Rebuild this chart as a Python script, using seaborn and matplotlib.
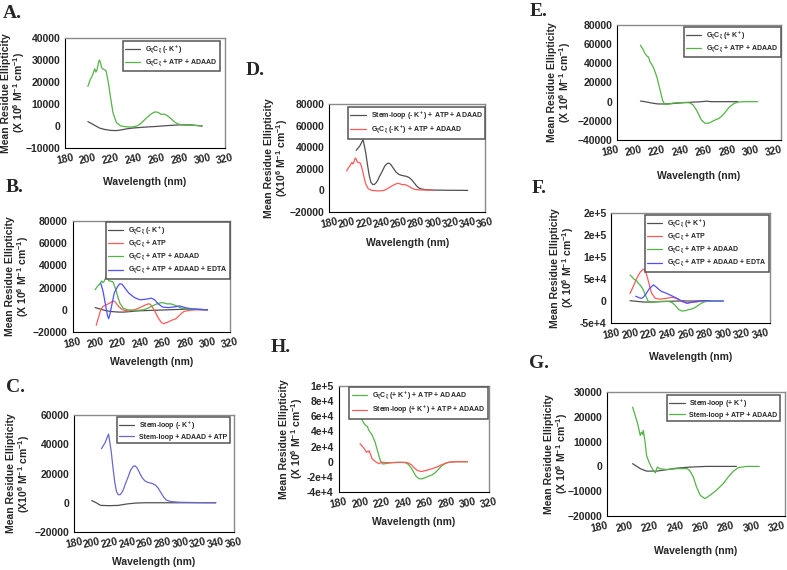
import matplotlib
matplotlib.use('Agg')
import matplotlib.pyplot as plt
import matplotlib.transforms as mtransforms
import seaborn as sns

# ---- data ----
# G C (- K+)
gc_k0_wl = [200, 205, 210, 215, 220, 225, 230, 235, 240, 250, 260, 270, 280, 290, 300]
gc_k0 = [2000, 600, -900, -1600, -2000, -2100, -1700, -1200, -900, -500, -200, 200, 500, 500, 0]

# G C (- K+) + ATP + ADAAD
gc_k0_aa_wl = [200, 202, 204, 206, 207, 208, 209, 210, 211, 212, 213, 215, 216, 218, 220,
               222, 225, 229, 233, 237, 240, 243, 246, 249, 252, 255, 258, 260, 262, 264,
               266, 268, 270, 273, 276, 279, 283, 288, 292, 296, 300]
gc_k0_aa = [18000, 21000, 23000, 26000, 24500, 25500, 28000, 30000, 29000, 26500, 26000, 25500, 25000, 19500, 12500,
            6000, 1500, 0, -300, -500, -300, 0, 1000, 2500, 4000, 5300, 6300, 6400, 6000, 5300,
            5400, 5200, 4500, 3200, 1800, 900, 500, 400, 300, 200, 0]

# G C (- K+) + ATP
gc_k0_atp_wl = [201, 203, 205, 207, 210, 213, 216, 218, 220, 223, 226, 230, 235, 240, 245,
                248, 250, 253, 256, 259, 261, 265, 268, 272, 276, 279, 284, 290, 300]
gc_k0_atp = [-14000, -7000, 0, 3000, 4500, 6000, 8000, 7000, 4000, 1000, -500, -1000, 0, 2000, 4500,
             5500, 4000, -1000, -7000, -11500, -12500, -11000, -9500, -8000, -4000, -1500, -500, 0, 0]

# G C (- K+) + ATP + ADAAD + EDTA
gc_k0_edta_wl = [205, 207, 209, 211, 212, 213, 215, 217, 220, 222, 224, 227, 230, 235, 240,
                 245, 250, 253, 256, 260, 265, 270, 275, 280, 285, 290, 300]
gc_k0_edta = [24000, 17000, 6000, -5000, -8000, -5000, 5000, 15000, 21000, 23500, 23000, 19000, 15000, 11000, 9000,
              9500, 10500, 9000, 5500, 2500, 2000, 2500, 3500, 2000, 1000, 500, 0]

# Stem-loop (- K+)
sl_k0_wl = [200, 205, 210, 220, 230, 240, 250, 260, 280, 300, 320, 340]
sl_k0 = [1500, 0, -1800, -2000, -1800, -800, -200, 0, 0, 0, 0, 0]

# Stem-loop (- K+) + ATP + ADAAD
sl_k0_aa_wl = [211, 213, 215, 217, 219, 220, 222, 224, 226, 228, 230, 232, 234, 236, 238,
               241, 244, 247, 249, 251, 254, 257, 260, 263, 266, 269, 272, 275, 278, 281,
               284, 287, 290, 295, 300, 310, 320, 340]
sl_k0_aa = [37000, 39000, 41000, 44000, 47000, 43000, 35000, 24000, 14000, 7500, 5500, 5500, 7000, 9500, 13000,
            17500, 22500, 25000, 25200, 24000, 20500, 17000, 15000, 14000, 13500, 13000, 12000, 10000, 7000, 4000,
            2000, 1200, 800, 500, 300, 200, 100, 0]

# G C (+ K+)
gc_k1_wl = [200, 205, 210, 215, 220, 225, 230, 240, 250, 257, 260, 270, 283]
gc_k1 = [700, -300, -1500, -2400, -2400, -2200, -1700, -800, -200, 500, 0, 0, 0]

# G C (+ K+) + ATP + ADAAD
gc_k1_aa_wl = [200, 202, 204, 206, 207, 208, 209, 211, 214, 216, 218, 219, 221, 224, 228,
               233, 238, 242, 245, 248, 250, 252, 255, 258, 260, 263, 267, 270, 273, 276,
               280, 284, 290, 300]
gc_k1_aa = [59000, 55000, 50000, 47000, 46500, 42000, 40000, 36000, 26000, 16000, 6000, 1000, -3000, -2500, -1500,
            -1000, -800, -1200, -3500, -9000, -14000, -19000, -22500, -22500, -21500, -19500, -17500, -14500, -10000, -5500,
            -1800, -300, 0, 0]

# G C (+ K+) + ATP
gc_k1_atp_wl = [200, 204, 207, 211, 214, 216, 218, 220, 223, 227, 232, 239, 245, 250, 255, 261, 266, 271, 279, 286]
gc_k1_atp = [17000, 36000, 51000, 66000, 72000, 70000, 58000, 42000, 18000, 6000,
             4000, 6000, 8500, 6000, -1000, -5000, -3000, -2500, 1000, 0]

# G C (+ K+) + ATP + ADAAD + EDTA
gc_k1_edta_wl = [206, 209, 212, 214, 217, 221, 225, 228, 231, 234, 239, 245, 250, 255, 261, 266, 271, 279, 290, 300]
gc_k1_edta = [11000, 8000, 6000, 8000, 16000, 29000, 36500, 32000, 26000, 21500,
              17500, 11500, 6300, 500, -5000, -3000, -1000, 1000, 0, 0]

# Stem-loop (+ K+)
sl_k1_wl = [200, 206, 211, 219, 227, 235, 245, 258, 270, 282]
sl_k1 = [1100, -900, -1900, -1900, -1300, -700, -300, 0, 0, 0]

# Stem-loop (+ K+) + ATP + ADAAD
sl_k1_aa_wl = [200, 202, 204, 206, 207, 208, 208.5, 210, 211, 213, 214.5, 216, 218, 219.5, 221.5,
               227, 235, 243, 245, 248, 250.5, 253.5, 257, 261, 266, 271.5, 275.5, 279.5, 283.5, 290, 300]
sl_k1_aa = [23900, 20600, 17200, 12500, 13800, 12900, 14500, 9100, 4400, 1700, 0, -1300, -2600, -300, -900,
            -1300, -900, -900, -1600, -4300, -8300, -11700, -13000, -11700, -9700, -7000, -4300, -2000, -500, 0, 0]

GC = r'G$_\xi$C$_\xi$'
BLACK = '#505050'
RED = '#ff5a5a'
GREEN = '#55b347'
BLUE = '#4f4fff'
SLATE = '#6868cc'

YLAB = 'Mean Residue Ellipticity\n(X 10$^6$ M$^{-1}$ cm$^{-1}$)'
YLAB2 = 'Mean Residue Ellipticity\n(X10$^6$ M$^{-1}$ cm$^{-1}$)'

sns.set_style('white')
plt.rcParams['font.family'] = ['Liberation Sans', 'DejaVu Sans']
plt.rcParams['font.weight'] = 'bold'
plt.rcParams['mathtext.fontset'] = 'custom'
plt.rcParams['mathtext.rm'] = 'Liberation Sans:bold'
plt.rcParams['mathtext.it'] = 'Liberation Sans:bold'
plt.rcParams['mathtext.bf'] = 'Liberation Sans:bold'
plt.rcParams['mathtext.default'] = 'rm'

W, H = 787, 570
fig = plt.figure(figsize=(W / 100, H / 100), dpi=100)


def panel(letter, letter_xy, box, xlim, ylim, yticks, curves, leg_corner, ylab_x, xlab_dy,
          ylab=YLAB, yticklabels=None, xmax_tick=None, xtick_shift=0):
    l, r, t, b = box
    ax = fig.add_axes([l / W, 1 - b / H, (r - l) / W, (b - t) / H])
    for wl, vals, col, lab in curves:
        sns.lineplot(x=wl, y=vals, ax=ax, color=col, lw=0.9, label=lab)
    ax.set_xlim(*xlim)
    ax.set_ylim(*ylim)
    top_tick = xmax_tick if xmax_tick else xlim[1]
    ax.set_xticks(range(xlim[0], top_tick + 1, 20))
    ax.set_yticks(yticks)
    if yticklabels:
        ax.set_yticklabels(yticklabels)
    ax.tick_params(labelsize=7.5, length=2, width=0.6, pad=1.5)
    shift = mtransforms.ScaledTranslation(xtick_shift / 100, 0, fig.dpi_scale_trans)
    for lbl in ax.get_xticklabels():
        lbl.set_rotation(12)
        if xtick_shift:
            lbl.set_transform(lbl.get_transform() + shift)
    for side in ['left', 'bottom']:
        ax.spines[side].set_color('black')
        ax.spines[side].set_linewidth(0.8)
    for side in ['top', 'right']:
        ax.spines[side].set_color('#8a8a8a')
        ax.spines[side].set_linewidth(1.0)
    lx, ly = leg_corner
    leg = ax.legend(loc='upper right', bbox_to_anchor=(lx / W, 1 - ly / H),
                    bbox_transform=fig.transFigure, borderaxespad=0, fontsize=5.0,
                    frameon=True, fancybox=False, framealpha=1, handlelength=2.2,
                    labelspacing=0.3, borderpad=0.35, handletextpad=0.7)
    leg.get_frame().set_edgecolor('#555555')
    leg.get_frame().set_linewidth(1.1)
    # axis titles and panel letter
    fig.text(ylab_x / W, 1 - (t + b) / 2 / H, ylab, rotation=90, ha='center', va='center',
             fontsize=7.5, fontweight='bold', linespacing=1.1)
    fig.text((l + r) / 2 / W, 1 - (b + xlab_dy) / H, 'Wavelength (nm)', ha='center', va='center',
             fontsize=7.5, fontweight='bold')
    fig.text(letter_xy[0] / W, 1 - letter_xy[1] / H, letter, ha='left', va='center',
             fontsize=14, fontweight='bold', family='Liberation Serif')
    return ax


# A
panel('A.', (3, 14), (65, 225, 38, 148), (180, 320), (-10000, 40000), range(-10000, 40001, 10000),
      [(gc_k0_wl, gc_k0, BLACK, GC + ' (- K$^+$)'),
       (gc_k0_aa_wl, gc_k0_aa, GREEN, GC + ' + ATP + ADAAD')],
      (220, 41), 14, 34)

# B
panel('B.', (6, 188), (72.6, 230, 221, 332), (180, 320), (-20000, 80000), range(-20000, 80001, 20000),
      [(gc_k0_wl, gc_k0, BLACK, GC + ' (- K$^+$)'),
       (gc_k0_atp_wl, gc_k0_atp, RED, GC + ' + ATP'),
       (gc_k0_aa_wl, gc_k0_aa, GREEN, GC + ' + ATP + ADAAD'),
       (gc_k0_edta_wl, gc_k0_edta, BLUE, GC + ' + ATP + ADAAD + EDTA')],
      (230, 222), 18, 30)

# C
panel('C.', (6, 388), (74, 233.5, 415, 532), (180, 360), (-20000, 60000), range(-20000, 60001, 20000),
      [(sl_k0_wl, sl_k0, BLACK, 'Stem-loop (- K$^+$)'),
       (sl_k0_aa_wl, sl_k0_aa, SLATE, 'Stem-loop + ADAAD + ATP')],
      (230, 417), 19, 30, ylab=YLAB2)

# D
panel('D.', (246, 71), (329.4, 485, 104, 212), (180, 360), (-20000, 80000), range(-20000, 80001, 20000),
      [(sl_k0_aa_wl, sl_k0_aa, BLACK, 'Stem-loop (- K$^+$) + ATP + ADAAD'),
       (gc_k0_aa_wl, gc_k0_aa, RED, GC + ' (-K$^+$) + ATP + ADAAD')],
      (485, 107), 277, 31, ylab=YLAB2)

# E
panel('E.', (530, 11), (617, 781, 25, 140), (180, 320), (-40000, 80000), range(-40000, 80001, 20000),
      [(gc_k1_wl, gc_k1, BLACK, GC + ' (+ K$^+$)'),
       (gc_k1_aa_wl, gc_k1_aa, GREEN, GC + ' + ATP + ADAAD')],
      (781, 27), 560, 36, xtick_shift=-7)

# F
panel('F.', (532, 189), (611.4, 770, 213, 323), (180, 350), (-50000, 200000), range(-50000, 200001, 50000),
      [(gc_k1_wl, gc_k1, BLACK, GC + ' (+ K$^+$)'),
       (gc_k1_atp_wl, gc_k1_atp, RED, GC + ' + ATP'),
       (gc_k1_aa_wl, gc_k1_aa, GREEN, GC + ' + ATP + ADAAD'),
       (gc_k1_edta_wl, gc_k1_edta, BLUE, GC + ' + ATP + ADAAD + EDTA')],
      (769, 215), 563, 34,
      yticklabels=['-5e+4', '0', '5e+4', '1e+5', '2e+5', '2e+5'], xmax_tick=340)

# G
panel('G.', (529, 364), (607.3, 784.5, 392, 516), (180, 320), (-20000, 30000), range(-20000, 30001, 10000),
      [(sl_k1_wl, sl_k1, BLACK, 'Stem-loop (+ K$^+$)'),
       (sl_k1_aa_wl, sl_k1_aa, GREEN, 'Stem-loop + ATP + ADAAD')],
      (780, 395), 557, 35, xtick_shift=-8)

# H
panel('H.', (271, 347), (338.5, 489, 386, 492), (180, 320), (-40000, 100000), range(-40000, 100001, 20000),
      [(gc_k1_aa_wl, gc_k1_aa, GREEN, GC + ' (+ K$^+$) + ATP + ADAAD'),
       (sl_k1_aa_wl, sl_k1_aa, RED, 'Stem-loop (+ K$^+$) + ATP + ADAAD')],
      (488, 387), 292, 30,
      yticklabels=['-4e+4', '-2e+4', '0', '2e+4', '4e+4', '6e+4', '8e+4', '1e+5'])

plt.savefig('out.png', dpi=100)
